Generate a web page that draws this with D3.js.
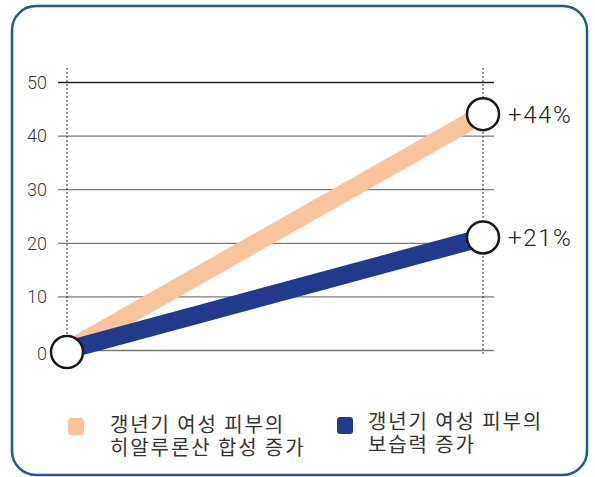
<!DOCTYPE html>
<html>
<head>
<meta charset="utf-8">
<script src="https://cdn.jsdelivr.net/npm/d3@7"></script>
<style>
  body { margin: 0; background: #fff; }
  text { font-family: "Noto Sans CJK KR", "Noto Sans", sans-serif; }
</style>
</head>
<body>
<div id="chart"></div>
<script>
const width = 595;
const height = 477;

// data
const periods = ["start", "end"];
const seriesNames = [
  ["갱년기 여성 피부의", "히알루론산 합성 증가"],
  ["갱년기 여성 피부의", "보습력 증가"]
];
const hyaluronic = [0, 44];
const moisture = [0, 21];
const endLabels = ["+44%", "+21%"];
const yTicks = [0, 10, 20, 30, 40, 50];
const colors = ["#f9c49c", "#213a8c"];

const svg = d3.select("#chart")
  .append("svg")
  .attr("width", width)
  .attr("height", height);

// rounded frame
svg.append("rect")
  .attr("x", 12).attr("y", 6)
  .attr("width", 575).attr("height", 469)
  .attr("rx", 24).attr("ry", 24)
  .attr("fill", "none")
  .attr("stroke", "#1d5a96")
  .attr("stroke-width", 2.5);

const xScale = d3.scalePoint().domain(periods).range([67, 483]);
const yScale = d3.scaleLinear().domain([0, 50]).range([350, 82]);

// gridlines + tick labels
const yAxis = d3.axisLeft(yScale).tickValues(yTicks).tickSize(-436).tickPadding(11);
const gAxis = svg.append("g")
  .attr("transform", "translate(58,0)")
  .call(yAxis);
gAxis.select(".domain").remove();
gAxis.selectAll(".tick line")
  .attr("stroke", d => d === 50 ? "#222" : "#7a7a7a")
  .attr("stroke-width", 1.3);
gAxis.selectAll(".tick text")
  .attr("fill", "#3a3a3a")
  .style("font-family", "Roboto, 'Liberation Sans', sans-serif")
  .style("font-weight", 300)
  .style("font-size", "18px")
  .attr("dy", d => d === 0 ? "0.55em" : "0.35em");

// dotted verticals
svg.selectAll(".vline")
  .data(periods)
  .enter()
  .append("line")
  .attr("x1", d => xScale(d)).attr("x2", d => xScale(d))
  .attr("y1", 68).attr("y2", (d, i) => i === 0 ? 350 : 356)
  .attr("stroke", "#333")
  .attr("stroke-width", 1)
  .attr("stroke-dasharray", "2,2");

const line = d3.line()
  .x((d, i) => xScale(periods[i]))
  .y(d => yScale(d));

[hyaluronic, moisture].forEach((vals, k) => {
  svg.append("path")
    .attr("d", line(vals))
    .attr("fill", "none")
    .attr("stroke", colors[k])
    .attr("stroke-width", 18);
});

// circles
const pts = [
  [periods[0], 0],
  [periods[1], hyaluronic[1]],
  [periods[1], moisture[1]]
];
svg.selectAll(".pt")
  .data(pts)
  .enter()
  .append("circle")
  .attr("cx", d => xScale(d[0]))
  .attr("cy", d => yScale(d[1]) + (d[1] === 0 ? 2 : 0))
  .attr("r", 16)
  .attr("fill", "#fff")
  .attr("stroke", "#1a1a1a")
  .attr("stroke-width", 2.5);

// end labels
svg.selectAll(".endlab")
  .data([hyaluronic[1], moisture[1]])
  .enter()
  .append("text")
  .attr("x", 508)
  .attr("y", d => yScale(d))
  .attr("dy", "0.36em")
  .attr("fill", "#222")
  .style("font-family", "Roboto, 'Liberation Sans', sans-serif")
  .style("font-weight", 300)
  .style("font-size", "24px")
  .style("letter-spacing", "1.6px")
  .text((d, i) => endLabels[i]);

// legend
const legendPos = [[68, 418, 110, 432], [337, 417, 368, 429]];
seriesNames.forEach((lines, k) => {
  const p = legendPos[k];
  svg.append("rect")
    .attr("x", p[0]).attr("y", p[1])
    .attr("width", 16).attr("height", 17)
    .attr("rx", 3)
    .attr("fill", colors[k]);
  lines.forEach((s, j) => {
    svg.append("text")
      .attr("x", p[2]).attr("y", p[3] + j * 23)
      .attr("fill", "#333")
      .style("font-size", "20px")
      .style("letter-spacing", "1.9px")
      .text(s);
  });
});
</script>
</body>
</html>
